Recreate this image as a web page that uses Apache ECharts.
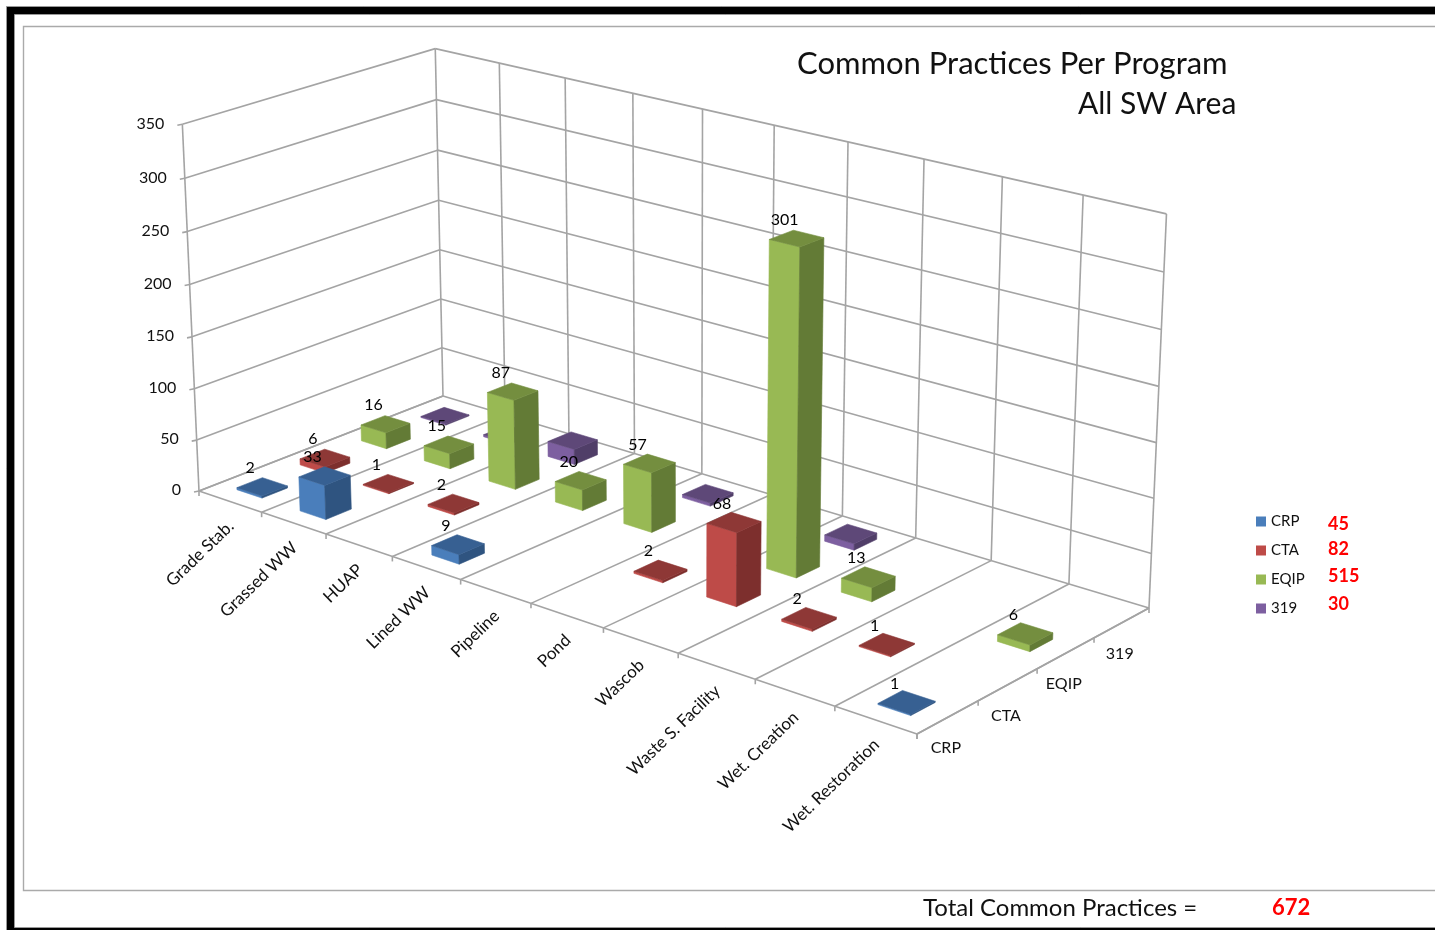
<!DOCTYPE html>
<html>
<head>
<meta charset="utf-8">
<style>html,body{margin:0;padding:0;background:#fff}#c{width:1435px;height:930px}</style>
<script src="https://cdn.jsdelivr.net/npm/echarts@6/dist/echarts.min.js"></script>
</head>
<body>
<div id="c"></div>
<script>
const categories = ['Grade Stab.','Grassed WW','HUAP','Lined WW','Pipeline','Pond','Wascob','Waste S. Facility','Wet. Creation','Wet. Restoration'];
const programs = ['CRP','CTA','EQIP','319'];
const crp  = [2,33,0,9,0,0,0,0,0,1];
const cta  = [6,1,2,0,0,2,68,2,1,0];
const eqip = [16,15,87,20,57,0,301,13,0,6];
const p319 = [1,2,15,0,3,0,6,0,0,0];
const programTotals = [45,82,515,30];
const grandTotal = 672;
const valueTicks = [0,50,100,150,200,250,300,350];

const FONT = 'Lato';
const GRID = '#a4a4a4';
const faces = [
  {front:'#4a7ebb', top:'#376092', side:'#2f5480'},
  {front:'#be4b48', top:'#8e3836', side:'#7d2f2d'},
  {front:'#98b954', top:'#748e3f', side:'#637b36'},
  {front:'#7d5fa0', top:'#5e4878', side:'#503e68'}
];
const BAR_FRACTION = 0.40;

// perspective box: floor corners and wall tops
const floorQuad = [[199,491],[917,734],[1149,608],[443,396]];
const topPts = [[0,0,182,123],[0,1,436,48],[1,1,1166,216]];

function makeProjection(){
  const [[x0,y0],[x1,y1],[x2,y2],[x3,y3]] = floorQuad;
  const dx1=x1-x2, dx2=x3-x2, sx=x0-x1+x2-x3;
  const dy1=y1-y2, dy2=y3-y2, sy=y0-y1+y2-y3;
  const det=dx1*dy2-dx2*dy1;
  const g=(sx*dy2-dx2*sy)/det, h=(dx1*sy-sx*dy1)/det;
  const A=x1-x0+g*x1, B=x3-x0+h*x3, C=x0;
  const D=y1-y0+g*y1, E=y3-y0+h*y3, F=y0;
  // least squares for the height column (a,b,c)
  const rows=[], rhs=[];
  topPts.forEach(([u,v,X,Y])=>{
    const Nx=A*u+B*v+C, Ny=D*u+E*v+F, W=g*u+h*v+1;
    rows.push([1,0,-X]); rhs.push(X*W-Nx);
    rows.push([0,1,-Y]); rhs.push(Y*W-Ny);
  });
  const M=[[0,0,0,0],[0,0,0,0],[0,0,0,0]];
  rows.forEach((r,k)=>{for(let i=0;i<3;i++){for(let j=0;j<3;j++)M[i][j]+=r[i]*r[j];M[i][3]+=r[i]*rhs[k];}});
  for(let i=0;i<3;i++){
    let p=i;for(let r=i+1;r<3;r++)if(Math.abs(M[r][i])>Math.abs(M[p][i]))p=r;
    [M[i],M[p]]=[M[p],M[i]];
    for(let r=0;r<3;r++){if(r===i)continue;const f=M[r][i]/M[i][i];for(let c=i;c<4;c++)M[r][c]-=f*M[i][c];}
  }
  const a=M[0][3]/M[0][0], b=M[1][3]/M[1][1], c=M[2][3]/M[2][2];
  return (u,v,w)=>{
    const W=g*u+h*v+1+c*w;
    return [(A*u+B*v+C+a*w)/W,(D*u+E*v+F+b*w)/W];
  };
}
const proj = makeProjection();

// library scale -> unit box coordinates
function unitU(cs,c){return (c[0]-cs.x)/cs.width;}
function unitW(cs,c){return (cs.y+cs.height-c[1])/cs.height;}

function barRender(depth){
  const col=faces[depth];
  return function(params,api){
    const cs=params.coordSys;
    const c=api.coord([api.value(0),api.value(1)]);
    const uc=unitU(cs,c), w=unitW(cs,c);
    const du=api.size([1,0])[0]/cs.width*BAR_FRACTION/2;
    const dv=1/programs.length*BAR_FRACTION/2;
    const vc=(depth+.5)/programs.length;
    const u0=uc-du,u1=uc+du,v0=vc-dv,v1=vc+dv;
    const poly=(pts,fill)=>({type:'polygon',shape:{points:pts},style:{fill,stroke:fill,lineWidth:.6}});
    return {type:'group',silent:true,children:[
      poly([proj(u0,v0,0),proj(u1,v0,0),proj(u1,v0,w),proj(u0,v0,w)],col.front),
      poly([proj(u1,v0,0),proj(u1,v1,0),proj(u1,v1,w),proj(u1,v0,w)],col.side),
      poly([proj(u0,v0,w),proj(u1,v0,w),proj(u1,v1,w),proj(u0,v1,w)],col.top)
    ]};
  };
}

function labelRender(params,api){
  const cs=params.coordSys;
  const c=api.coord([api.value(0),api.value(1)]);
  const vc=(api.value(2)+.5)/programs.length;
  const p=proj(unitU(cs,c),vc,unitW(cs,c));
  return {type:'text',silent:true,x:p[0]-12,y:p[1]-19,
    style:{text:String(api.value(1)),fontFamily:FONT,fontSize:16,fill:'#000',align:'center',verticalAlign:'middle'}};
}

function frameRender(params,api){
  const cs=params.coordSys;
  const kids=[];
  const line=(a,b)=>kids.push({type:'line',shape:{x1:a[0],y1:a[1],x2:b[0],y2:b[1]},style:{stroke:GRID,lineWidth:1.6}});
  const text=(t,x,y,align,rot,size)=>kids.push({type:'text',x,y,rotation:rot||0,
    style:{text:t,fontFamily:FONT,fontSize:size||16,fill:'#111',align,verticalAlign:'middle'}});
  const n=categories.length, m=programs.length;
  const wTop=unitW(cs,api.coord([0,valueTicks[valueTicks.length-1]]));
  // horizontal wall lines and value ticks
  valueTicks.forEach(t=>{
    const w=unitW(cs,api.coord([0,t]));
    const a=proj(0,0,w), b=proj(0,1,w), d=proj(1,1,w);
    line(a,b); line(b,d);
    line(a,[a[0]-5,a[1]+1]);
    text(String(t),a[0]-18,a[1]-.8,'right');
  });
  // wall edges, floor and back wall verticals
  line(proj(0,0,0),proj(0,0,wTop));
  for(let k=0;k<=n;k++){
    const u=k/n, a=proj(u,0,0), b=proj(u,1,0);
    line(a,b); line(b,proj(u,1,wTop));
    line(a,[a[0],a[1]+5]);
  }
  line(proj(0,0,0),proj(1,0,0));
  line(proj(1,0,0),proj(1,1,0));
  for(let k=0;k<=m;k++){const a=proj(1,k/m,0);line(a,[a[0],a[1]+5]);}
  // axis labels
  categories.forEach((name,i)=>{
    const a=proj((i+.5)/n,0,0);
    text(name,a[0]+1,a[1]+22,'right',44*Math.PI/180,17);
  });
  programs.forEach((name,s)=>{
    const a=proj(1,(s+.5)/m,0);
    text(name,a[0]-2,a[1]+31,'center');
  });
  return {type:'group',silent:true,children:kids};
}

const rowsOf=arr=>arr.map((v,i)=>[i,v]).filter(r=>r[1]>0);
const seriesValues=[crp,cta,eqip,p319];

const labelRows=[];
[crp,cta,eqip].forEach((arr,s)=>arr.forEach((v,i)=>{if(v>0)labelRows.push([i,v,s]);}));

const series=[
  {type:'custom',name:'frame',z:1,silent:true,data:[[0,0]],renderItem:frameRender,animation:false}
];
seriesValues.forEach((arr,s)=>series.push({
  type:'custom',name:programs[s],z:6-s,silent:true,animation:false,
  itemStyle:{color:faces[s].front},
  data:rowsOf(arr),renderItem:barRender(s)
}));
series.push({type:'custom',name:'labels',z:9,silent:true,animation:false,data:labelRows,renderItem:labelRender});

const plainText=(text,x,y,size,extra)=>Object.assign({type:'text',x,y,z:0,silent:true,
  style:Object.assign({text,fontFamily:FONT,fontSize:size,fill:'#111',align:'left',verticalAlign:'middle'},extra||{})},{});
const redY=[524,549,576,604];

const chart=echarts.init(document.getElementById('c'),null,{renderer:'canvas'});
chart.setOption({
  animation:false,
  backgroundColor:'#fff',
  title:[
    {text:'Common Practices Per Program',left:792,top:43,textStyle:{fontFamily:FONT,fontSize:31,fontWeight:'normal',color:'#111'}},
    {text:'All SW Area',left:1073,top:84,textStyle:{fontFamily:FONT,fontSize:30,fontWeight:'normal',color:'#111'}}
  ],
  grid:{left:0,right:0,top:0,bottom:0,show:false},
  xAxis:{type:'category',data:categories,show:false},
  yAxis:{type:'value',min:0,max:350,show:false},
  legend:{data:programs,orient:'vertical',left:1251,top:509,itemWidth:10,itemHeight:10,itemGap:14,icon:'rect',
    selectedMode:false,textStyle:{fontFamily:FONT,fontSize:15,color:'#111'}},
  graphic:{elements:[
    {type:'rect',z:-3,silent:true,shape:{x:6.5,y:6.5,width:1440,height:930},style:{fill:'#000',stroke:'#999',lineWidth:1}},
    {type:'rect',z:-2,silent:true,shape:{x:14.5,y:14.5,width:1440,height:913},style:{fill:'#fff',stroke:'#999',lineWidth:1}},
    {type:'rect',z:-1,silent:true,shape:{x:23.5,y:26.5,width:1440,height:864},style:{fill:'#fff',stroke:'#aaa',lineWidth:1.4}},
    plainText('Total Common Practices =',923,908,24),
    plainText(String(grandTotal),1272,908,22,{fill:'#f00',fontWeight:'bold'})
  ].concat(programTotals.map((t,i)=>plainText(String(t),1328,redY[i],18,{fill:'#f00',fontWeight:'bold'})))},
  series
});
</script>
</body>
</html>
